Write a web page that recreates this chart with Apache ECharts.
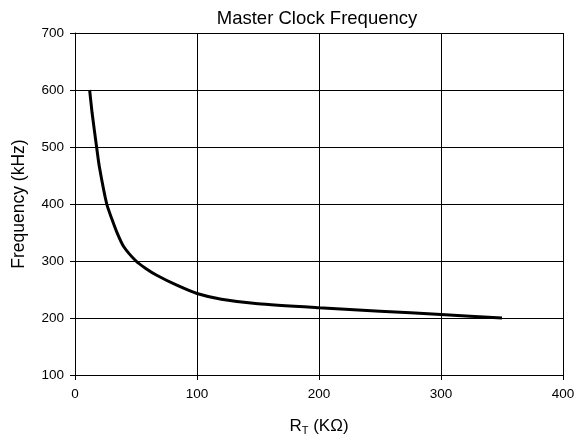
<!DOCTYPE html>
<html>
<head>
<meta charset="utf-8">
<script src="https://cdn.jsdelivr.net/npm/echarts@6/dist/echarts.min.js"></script>
<style>html,body{margin:0;padding:0;background:#fff}#c{width:582px;height:441px}</style>
</head>
<body>
<div id="c"></div>
<script>
const rtValues = [12, 14, 17.7, 20, 26, 30, 34.6, 40, 50, 58, 67, 83, 100, 120, 150, 200, 250, 300, 350];
const freqValues = [600, 560, 500, 465, 400, 375, 349, 325, 300, 287, 275, 258, 243, 233, 225, 218, 212, 206, 200];
const xTicks = [0, 100, 200, 300, 400];
const yTicks = [100, 200, 300, 400, 500, 600, 700];

const chart = echarts.init(document.getElementById('c'), null, {renderer: 'canvas'});
const font = 'Liberation Sans, Arial, sans-serif';
chart.setOption({
  animation: false,
  backgroundColor: '#fff',
  title: {
    text: 'Master Clock Frequency',
    left: 312, top: 4, textAlign: 'center',
    textStyle: {fontFamily: font, fontSize: 18.5, fontWeight: 'normal', color: '#000'}
  },
  grid: {left: 75, right: 19, top: 33, bottom: 66},
  xAxis: {
    type: 'value', min: xTicks[0], max: xTicks[xTicks.length - 1], interval: 100,
    name: '{a|R}{b|T}{a| (KΩ)}',
    nameLocation: 'middle', nameGap: 41,
    nameTextStyle: {
      fontFamily: font, color: '#000',
      rich: {
        a: {fontFamily: font, fontSize: 17, color: '#000'},
        b: {fontFamily: font, fontSize: 11, color: '#000', verticalAlign: 'bottom', padding: [9, 0, 0, 0]}
      }
    },
    axisLine: {show: true, lineStyle: {color: '#000', width: 1}},
    axisTick: {show: true, length: 5, lineStyle: {color: '#000'}},
    axisLabel: {fontFamily: font, fontSize: 13.5, color: '#000', margin: 12},
    splitLine: {show: true, lineStyle: {color: '#000', width: 1}}
  },
  yAxis: {
    type: 'value', min: yTicks[0], max: yTicks[yTicks.length - 1], interval: 100,
    name: 'Frequency (kHz)',
    nameLocation: 'middle', nameGap: 47, nameRotate: 90,
    nameTextStyle: {fontFamily: font, fontSize: 17.5, color: '#000'},
    axisLine: {show: true, lineStyle: {color: '#000', width: 1}},
    axisTick: {show: true, length: 5, lineStyle: {color: '#000'}},
    axisLabel: {fontFamily: font, fontSize: 13.5, color: '#000', margin: 11},
    splitLine: {show: true, lineStyle: {color: '#000', width: 1}}
  },
  series: [{
    type: 'line',
    data: rtValues.map((x, i) => [x, freqValues[i]]),
    showSymbol: false,
    smooth: 0.2,
    lineStyle: {color: '#000', width: 3},
    itemStyle: {color: '#000'}
  }]
});
</script>
</body>
</html>
